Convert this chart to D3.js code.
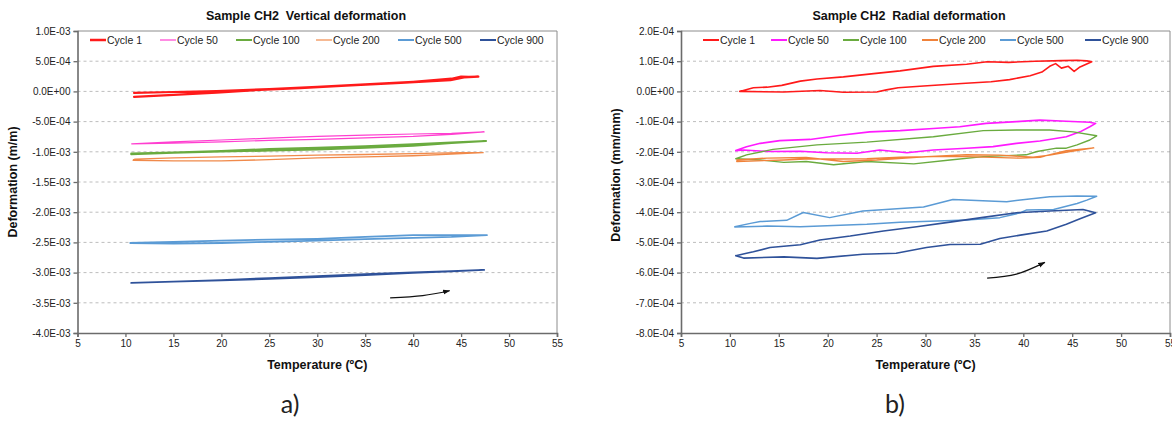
<!DOCTYPE html>
<html><head><meta charset="utf-8">
<script src="https://cdn.jsdelivr.net/npm/d3@7"></script>
<style>
html,body{margin:0;padding:0;background:#fff;}
svg{display:block;font-family:"Liberation Sans",Arial,sans-serif;}
</style></head>
<body>
<svg id="c" width="1172" height="421"></svg>
<script>
// ---------- DATA ----------
const seriesNames = ["Cycle 1","Cycle 50","Cycle 100","Cycle 200","Cycle 500","Cycle 900"];
const xTicks = [5,10,15,20,25,30,35,40,45,50,55];
const vertYTicks = [1e-3,5e-4,0,-5e-4,-1e-3,-1.5e-3,-2e-3,-2.5e-3,-3e-3,-3.5e-3,-4e-3];
const radYTicks = [2e-4,1e-4,0,-1e-4,-2e-4,-3e-4,-4e-4,-5e-4,-6e-4,-7e-4,-8e-4];

// Vertical deformation (m/m) : [temperature, deformation]
const vertCycle1 = [[10.9,-0.90e-4],[14,-0.65e-4],[19.5,-0.20e-4],[24,0.25e-4],[28.2,0.55e-4],[33,0.95e-4],[38.7,1.40e-4],[43.9,1.85e-4],[45.3,2.30e-4],[46.8,2.45e-4],[45.8,2.40e-4],[45,2.45e-4],[44,2.10e-4],[40,1.60e-4],[35,1.15e-4],[30,0.75e-4],[25,0.40e-4],[19.5,0.05e-4],[15,-0.10e-4],[10.9,-0.25e-4]];
const vertCycle50 = [[10.65,-8.68e-4],[15,-8.55e-4],[20,-8.35e-4],[25,-8.10e-4],[30,-7.95e-4],[35,-7.70e-4],[40,-7.45e-4],[44,-7.10e-4],[47.4,-6.70e-4],[44,-6.95e-4],[40,-7.05e-4],[35,-7.25e-4],[30,-7.45e-4],[25,-7.75e-4],[20,-8.05e-4],[15,-8.35e-4],[10.65,-8.68e-4]];
const vertCycle100 = [[10.6,-10.4e-4],[15,-10.15e-4],[20,-9.95e-4],[25,-9.80e-4],[30,-9.60e-4],[35,-9.35e-4],[40,-9.00e-4],[44,-8.55e-4],[47.6,-8.20e-4],[44,-8.45e-4],[40,-8.75e-4],[35,-9.10e-4],[30,-9.35e-4],[25,-9.55e-4],[20,-9.85e-4],[15,-10.1e-4],[10.6,-10.3e-4]];
const vertCycle200 = [[10.8,-11.4e-4],[15,-11.5e-4],[20,-11.5e-4],[25,-11.3e-4],[30,-11.0e-4],[35,-10.85e-4],[40,-10.65e-4],[44,-10.4e-4],[47.3,-10.15e-4],[45,-10.15e-4],[40,-10.3e-4],[35,-10.45e-4],[30,-10.55e-4],[25,-10.7e-4],[20,-10.85e-4],[15,-11.0e-4],[11,-11.2e-4],[10.8,-11.4e-4]];
const vertCycle500 = [[10.5,-25.1e-4],[15,-25.2e-4],[20,-25.1e-4],[25,-24.9e-4],[30,-24.7e-4],[35,-24.45e-4],[40,-24.25e-4],[44,-24.1e-4],[47.7,-23.8e-4],[44,-23.8e-4],[40,-23.8e-4],[35,-24.1e-4],[30,-24.4e-4],[25,-24.55e-4],[20,-24.7e-4],[15,-24.9e-4],[10.5,-25.1e-4]];
const vertCycle900 = [[10.6,-31.7e-4],[15,-31.5e-4],[20,-31.3e-4],[25,-31.05e-4],[30,-30.75e-4],[35,-30.4e-4],[40,-30.05e-4],[44,-29.8e-4],[47.4,-29.55e-4],[44,-29.75e-4],[40,-29.95e-4],[35,-30.25e-4],[30,-30.6e-4],[25,-30.9e-4],[20,-31.25e-4],[15,-31.5e-4],[10.6,-31.7e-4]];
const vertArrow = [[37.6,-3.42e-3],[41,-3.38e-3],[43.8,-3.30e-3]];

// Radial deformation (mm/mm)
const radCycle1 = [[11.0,0.00e-4],[12.4,0.12e-4],[13.8,0.14e-4],[15.3,0.20e-4],[17.2,0.34e-4],[18.9,0.41e-4],[21.6,0.48e-4],[24.7,0.59e-4],[27.4,0.68e-4],[30.8,0.83e-4],[34.2,0.90e-4],[36.3,0.98e-4],[38.5,0.96e-4],[41.2,1.00e-4],[43.9,1.02e-4],[45.5,1.03e-4],[46.5,1.01e-4],[47.0,0.98e-4],[45.8,0.81e-4],[45.2,0.66e-4],[44.6,0.83e-4],[43.9,0.77e-4],[43.3,0.92e-4],[42.7,0.83e-4],[41.9,0.64e-4],[40.7,0.52e-4],[38.6,0.39e-4],[36.7,0.32e-4],[33.7,0.26e-4],[29.8,0.18e-4],[27.2,0.12e-4],[26.0,0.05e-4],[25.0,-0.02e-4],[21.6,-0.03e-4],[19.2,0.03e-4],[15.5,-0.02e-4],[11.0,0.00e-4]];
const radCycle50 = [[10.6,-1.96e-4],[11.7,-1.83e-4],[13.1,-1.72e-4],[15.1,-1.63e-4],[18.2,-1.59e-4],[21.3,-1.45e-4],[24.3,-1.34e-4],[27.4,-1.30e-4],[30.8,-1.23e-4],[33.5,-1.17e-4],[36.2,-1.06e-4],[39.3,-1.00e-4],[41.7,-0.95e-4],[44.4,-0.99e-4],[46.8,-1.02e-4],[47.4,-1.06e-4],[46.8,-1.17e-4],[45.8,-1.34e-4],[44.4,-1.50e-4],[41.7,-1.64e-4],[39.3,-1.72e-4],[36.9,-1.83e-4],[34.2,-1.88e-4],[30.8,-1.94e-4],[28.1,-2.03e-4],[25.3,-1.94e-4],[23.0,-2.05e-4],[19.9,-2.03e-4],[17.2,-1.98e-4],[13.8,-1.99e-4],[11.4,-1.94e-4],[10.6,-1.96e-4]];
const radCycle100 = [[10.6,-2.23e-4],[11.7,-2.10e-4],[14.4,-1.92e-4],[18.9,-1.77e-4],[24.0,-1.68e-4],[30.8,-1.50e-4],[35.9,-1.30e-4],[39.3,-1.28e-4],[42.7,-1.28e-4],[45.1,-1.34e-4],[47.5,-1.47e-4],[46.8,-1.61e-4],[45.5,-1.77e-4],[44.4,-1.88e-4],[43.4,-1.88e-4],[41.4,-1.99e-4],[40.3,-2.10e-4],[35.9,-2.16e-4],[32.5,-2.27e-4],[28.8,-2.40e-4],[24.0,-2.32e-4],[20.6,-2.43e-4],[17.8,-2.32e-4],[15.5,-2.35e-4],[13.1,-2.27e-4],[10.6,-2.23e-4]];
const radCycle200 = [[10.7,-2.27e-4],[13.8,-2.21e-4],[17.8,-2.19e-4],[21.6,-2.32e-4],[25.0,-2.27e-4],[29.1,-2.18e-4],[34.2,-2.10e-4],[37.6,-2.11e-4],[41.0,-2.18e-4],[42.7,-2.11e-4],[44.8,-1.99e-4],[47.2,-1.87e-4],[44.4,-1.96e-4],[41.7,-2.18e-4],[39.7,-2.21e-4],[34.2,-2.16e-4],[30.8,-2.16e-4],[27.4,-2.18e-4],[24.0,-2.23e-4],[21.3,-2.24e-4],[18.2,-2.23e-4],[15.5,-2.27e-4],[10.7,-2.32e-4]];
const radCycle500 = [[10.5,-4.48e-4],[12.1,-4.37e-4],[13.1,-4.31e-4],[15.8,-4.27e-4],[17.5,-4.01e-4],[20.2,-4.18e-4],[23.6,-3.96e-4],[29.8,-3.83e-4],[32.8,-3.58e-4],[38.3,-3.65e-4],[42.7,-3.49e-4],[45.5,-3.46e-4],[47.5,-3.47e-4],[46.5,-3.60e-4],[45.5,-3.71e-4],[43.1,-3.91e-4],[40.3,-3.93e-4],[39.7,-4.02e-4],[37.6,-4.18e-4],[34.2,-4.26e-4],[27.4,-4.33e-4],[24.0,-4.40e-4],[17.2,-4.48e-4],[13.8,-4.46e-4],[10.5,-4.49e-4]];
const radCycle900 = [[10.6,-5.44e-4],[11.7,-5.36e-4],[12.4,-5.31e-4],[14.1,-5.17e-4],[17.2,-5.08e-4],[19.2,-4.92e-4],[22.3,-4.79e-4],[25.7,-4.62e-4],[29.1,-4.48e-4],[32.5,-4.33e-4],[35.9,-4.17e-4],[39.3,-4.02e-4],[42.7,-3.96e-4],[46.1,-3.91e-4],[47.4,-4.02e-4],[45.8,-4.22e-4],[44.4,-4.40e-4],[42.4,-4.62e-4],[39.7,-4.76e-4],[37.6,-4.87e-4],[35.6,-5.06e-4],[32.5,-5.07e-4],[30.1,-5.17e-4],[27.0,-5.36e-4],[23.6,-5.39e-4],[18.9,-5.53e-4],[15.5,-5.48e-4],[11.4,-5.52e-4],[10.6,-5.44e-4]];
const radArrow = [[36.3,-6.18e-4],[39.3,-6.05e-4],[42.2,-5.66e-4]];

// ---------- STYLE / LAYOUT ----------
const vertColors = ["#ff1a1a","#ff3fd0","#6aab3f","#f08a4b","#5b9bd5","#2f529a"];
const vertWidths = [2.2,1.2,2,1.3,1.8,1.8];
const radColors = ["#ff1a1a","#ff1aff","#6aab3f","#f0823a","#5b9bd5","#2f529a"];
const radWidths = [1.6,1.6,1.4,1.4,1.5,1.6];

const svg = d3.select("#c");
svg.append("defs").append("marker").attr("id","ah").attr("viewBox","0 0 10 10")
  .attr("refX",9).attr("refY",5).attr("markerWidth",6).attr("markerHeight",6)
  .attr("orient","auto").append("path").attr("d","M0,1.5 L10,5 L0,8.5 z").attr("fill","#111");

function fmtE(d){
  if (Math.abs(d) < 1e-12) return "0.0E+00";
  const e = Math.floor(Math.log10(Math.abs(d)) + 1e-9);
  const m = d / Math.pow(10, e);
  return m.toFixed(1) + "E" + (e < 0 ? "-" : "+") + String(Math.abs(e)).padStart(2,"0");
}

function drawChart(o){
  const g = svg.append("g");
  const x = d3.scaleLinear().domain([5,55]).range([o.x0,o.x1]);
  const y = d3.scaleLinear().domain([o.yTicks[o.yTicks.length-1], o.yTicks[0]]).range([o.y1,o.y0]);
  // grid
  g.selectAll("line.grid").data(o.yTicks.slice(1,-1)).join("line")
    .attr("x1",o.x0).attr("x2",o.x1).attr("y1",d=>y(d)).attr("y2",d=>y(d))
    .attr("stroke","#bdbdbd").attr("stroke-width",1).attr("stroke-dasharray","3,3");
  // border
  g.append("path").attr("d",`M${o.x0},${o.y0}H${o.x1}V${o.y1}`).attr("fill","none").attr("stroke","#8c8c8c").attr("stroke-width",1);
  // axes
  const ya = d3.axisLeft(y).tickValues(o.yTicks).tickFormat(fmtE).tickSize(4).tickPadding(3);
  const xa = d3.axisBottom(x).tickValues(xTicks).tickFormat(d3.format("d")).tickSize(4).tickPadding(3);
  const gy = g.append("g").attr("transform",`translate(${o.x0},0)`).call(ya);
  const gx = g.append("g").attr("transform",`translate(0,${o.y1})`).call(xa);
  [gy,gx].forEach(a=>{
    a.select(".domain").attr("stroke","#6b6b6b").attr("stroke-width",1.6);
    a.selectAll(".tick line").attr("stroke","#6b6b6b").attr("stroke-width",1.3);
    a.selectAll("text").attr("font-size",10).attr("fill","#222").attr("font-family","Liberation Sans, Arial, sans-serif");
  });
  // series
  const line = d3.line().x(d=>x(d[0])).y(d=>y(d[1]));
  o.series.forEach((s,i)=>{
    g.append("path").attr("d",line(s)).attr("fill","none").attr("stroke",o.colors[i])
      .attr("stroke-width",o.widths[i]).attr("stroke-linejoin","round").attr("stroke-linecap","round");
  });
  // arrow
  g.append("path").attr("d",d3.line().curve(d3.curveNatural).x(d=>x(d[0])).y(d=>y(d[1]))(o.arrow))
    .attr("fill","none").attr("stroke","#111").attr("stroke-width",1.2).attr("marker-end","url(#ah)");
  // legend
  seriesNames.forEach((n,i)=>{
    const lx = o.legX[i];
    g.append("line").attr("x1",lx).attr("x2",lx+16).attr("y1",o.legY).attr("y2",o.legY)
      .attr("stroke",o.colors[i]).attr("stroke-width",o.legW[i]);
    g.append("text").attr("x",lx+17).attr("y",o.legY+3.6).attr("font-size",10.5).attr("fill","#222").text(n);
  });
  // titles
  g.append("text").attr("x",o.titleX).attr("y",20).attr("text-anchor","middle")
    .style("white-space","pre").attr("xml:space","preserve")
    .attr("font-size",12.5).attr("font-weight","bold").attr("fill","#111").text(o.title);
  g.append("text").attr("x",(o.x0+o.x1)/2).attr("y",369).attr("text-anchor","middle")
    .attr("font-size",12.5).attr("font-weight","bold").attr("fill","#111").text("Temperature (ºC)");
  g.append("text").attr("transform",`translate(${o.yTitleX},${o.yTitleY}) rotate(-90)`).attr("text-anchor","middle")
    .attr("font-size",12.5).attr("font-weight","bold").attr("fill","#111").text(o.yTitle);
  g.append("text").attr("x",o.labX).attr("y",413).attr("text-anchor","middle")
    .attr("font-size",25).attr("font-family","Lato, 'Open Sans', sans-serif").attr("fill","#222").text(o.lab);
}

drawChart({x0:77.5,x1:557,y0:31,y1:333,yTicks:vertYTicks,
  series:[vertCycle1,vertCycle50,vertCycle100,vertCycle200,vertCycle500,vertCycle900],
  colors:vertColors,widths:vertWidths,legW:[2.5,1.2,2,1.2,2,2],arrow:vertArrow,
  legX:[90,160,236,316,398,480],legY:40,
  title:"Sample CH2  Vertical deformation",titleX:306,
  yTitle:"Deformation (m/m)",yTitleX:17,yTitleY:182,lab:"a)",labX:290});

drawChart({x0:681,x1:1170,y0:31,y1:333,yTicks:radYTicks,
  series:[radCycle1,radCycle50,radCycle100,radCycle200,radCycle500,radCycle900],
  colors:radColors,widths:radWidths,legW:[2,2,2,2,2,2],arrow:radArrow,
  legX:[703,771,843,922,1000,1085],legY:40,
  title:"Sample CH2  Radial deformation",titleX:909,
  yTitle:"Deformation (mm/mm)",yTitleX:620,yTitleY:175,lab:"b)",labX:895});
</script>
</body></html>
